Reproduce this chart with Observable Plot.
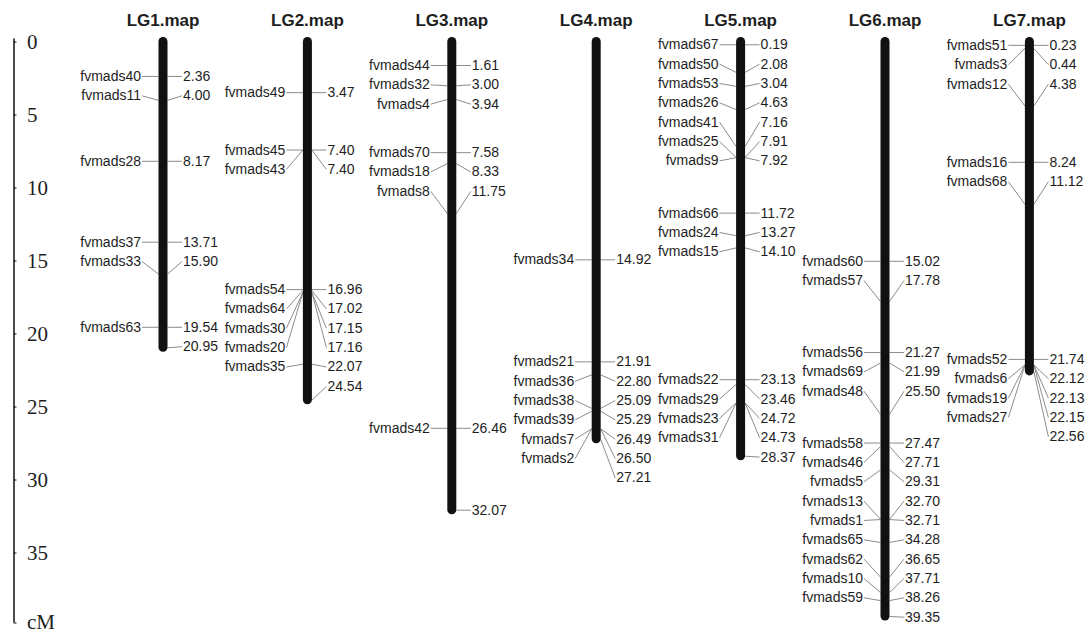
<!DOCTYPE html>
<html><head><meta charset="utf-8">
<script src="https://cdn.jsdelivr.net/npm/d3@7"></script>
<script src="https://cdn.jsdelivr.net/npm/@observablehq/plot@0.6"></script>
<style>body{margin:0;background:#fff} #chart svg{display:block}</style>
</head><body><div id="chart"></div>
<script>
// ---- data ----
const groups = ["LG1.map","LG2.map","LG3.map","LG4.map","LG5.map","LG6.map","LG7.map"];
const lg1Names = ["fvmads40","fvmads11","fvmads28","fvmads37","fvmads33","fvmads63"];
const lg1Pos = [2.36,4.00,8.17,13.71,15.90,19.54,20.95];
const lg2Names = ["fvmads49","fvmads45","fvmads43","fvmads54","fvmads64","fvmads30","fvmads20","fvmads35"];
const lg2Pos = [3.47,7.40,7.40,16.96,17.02,17.15,17.16,22.07,24.54];
const lg3Names = ["fvmads44","fvmads32","fvmads4","fvmads70","fvmads18","fvmads8","fvmads42"];
const lg3Pos = [1.61,3.00,3.94,7.58,8.33,11.75,26.46,32.07];
const lg4Names = ["fvmads34","fvmads21","fvmads36","fvmads38","fvmads39","fvmads7","fvmads2"];
const lg4Pos = [14.92,21.91,22.80,25.09,25.29,26.49,26.50,27.21];
const lg5Names = ["fvmads67","fvmads50","fvmads53","fvmads26","fvmads41","fvmads25","fvmads9","fvmads66","fvmads24","fvmads15","fvmads22","fvmads29","fvmads23","fvmads31"];
const lg5Pos = [0.19,2.08,3.04,4.63,7.16,7.91,7.92,11.72,13.27,14.10,23.13,23.46,24.72,24.73,28.37];
const lg6Names = ["fvmads60","fvmads57","fvmads56","fvmads69","fvmads48","fvmads58","fvmads46","fvmads5","fvmads13","fvmads1","fvmads65","fvmads62","fvmads10","fvmads59"];
const lg6Pos = [15.02,17.78,21.27,21.99,25.50,27.47,27.71,29.31,32.70,32.71,34.28,36.65,37.71,38.26,39.35];
const lg7Names = ["fvmads51","fvmads3","fvmads12","fvmads16","fvmads68","fvmads52","fvmads6","fvmads19","fvmads27"];
const lg7Pos = [0.23,0.44,4.38,8.24,11.12,21.74,22.12,22.13,22.15,22.56];
const rulerTicks = [0,5,10,15,20,25,30,35];
const rulerUnit = "cM";
const rulerMax = 40;

// ---- layout helpers ----
const W = 1086, H = 634;
const slotPx = 144.4, firstPx = 162.5;
const px = v => v / slotPx;                      // pixel offset -> slot units
const xDomain = [-firstPx / slotPx, (W - firstPx) / slotPx];
const rulerX = xDomain[0] + px(13.5);
const labelStep = 1.325, attachGap = 3.1;        // cM

function layoutLabels(pos) {
  const out = [];
  pos.forEach((p, i) => {
    if (i === 0) out.push(p);
    else { const prev = out[i - 1]; out.push(p - prev < attachGap ? prev + labelStep : p); }
  });
  return out;
}

const namesList = [lg1Names, lg2Names, lg3Names, lg4Names, lg5Names, lg6Names, lg7Names];
const posList = [lg1Pos, lg2Pos, lg3Pos, lg4Pos, lg5Pos, lg6Pos, lg7Pos];

const rows = [];
posList.forEach((pos, g) => {
  const lab = layoutLabels(pos);
  pos.forEach((p, k) => rows.push({g, pos: p, lab: lab[k], name: namesList[g][k] || ""}));
});
const nameRows = rows.filter(d => d.name);
const bars = groups.map((t, g) => ({g, len: posList[g][posList[g].length - 1]}));
const tickRows = rulerTicks.map(v => ({v, t: String(v)}));
const endRow = [{v: rulerMax, t: rulerUnit}];

const lineColor = "#8c8c8c", textColor = "#1e1e1e";
const serif = "'Liberation Serif', 'Times New Roman', serif";

const chart = Plot.plot({
  width: W, height: H,
  marginLeft: 0, marginRight: 0, marginTop: 41.5, marginBottom: 8.5,
  x: {domain: xDomain, axis: null},
  y: {domain: [0, rulerMax], reverse: true, axis: null},
  style: {fontFamily: "'Liberation Sans', Arial, sans-serif", background: "#fff", color: textColor},
  marks: [
    // ruler
    Plot.ruleX([0], {x: () => rulerX, y1: 0, y2: rulerMax, dy: -3, stroke: "#111", strokeWidth: 1.5}),
    Plot.ruleY(tickRows, {y: "v", x1: () => rulerX, x2: () => rulerX + px(3), stroke: "#111", strokeWidth: 1}),
    Plot.ruleY(endRow, {y: "v", dy: -3, x1: () => rulerX, x2: () => rulerX + px(3), stroke: "#111", strokeWidth: 1}),
    Plot.text(tickRows, {x: () => rulerX, y: "v", text: "t", dx: 13, textAnchor: "start",
      fontFamily: serif, fontSize: 21, fill: textColor}),
    Plot.text(endRow, {x: () => rulerX, y: "v", text: "t", dx: 13, dy: -4, textAnchor: "start",
      fontFamily: serif, fontSize: 21, fill: textColor}),
    // connectors
    Plot.link(nameRows, {x1: d => d.g - px(4.5), y1: "pos", x2: d => d.g - px(21), y2: "lab", stroke: lineColor, strokeWidth: 1}),
    Plot.link(rows, {x1: d => d.g + px(4.5), y1: "pos", x2: d => d.g + px(19), y2: "lab", stroke: lineColor, strokeWidth: 1}),
    // chromosomes
    Plot.ruleX(bars, {x: "g", y1: 0, y2: "len", stroke: "#111", strokeWidth: 9, strokeLinecap: "round"}),
    // labels
    Plot.text(nameRows, {x: "g", y: "lab", text: "name", dx: -22, textAnchor: "end", fontSize: 14, fill: textColor}),
    Plot.text(rows, {x: "g", y: "lab", text: d => d.pos.toFixed(2), dx: 20, textAnchor: "start", fontSize: 14, fill: textColor}),
    // titles
    Plot.text(groups, {x: (d, i) => i, y: () => 0, dy: -21, text: d => d, fontSize: 17, fontWeight: "bold", fill: textColor})
  ]
});
document.getElementById("chart").appendChild(chart);
</script>
</body></html>
